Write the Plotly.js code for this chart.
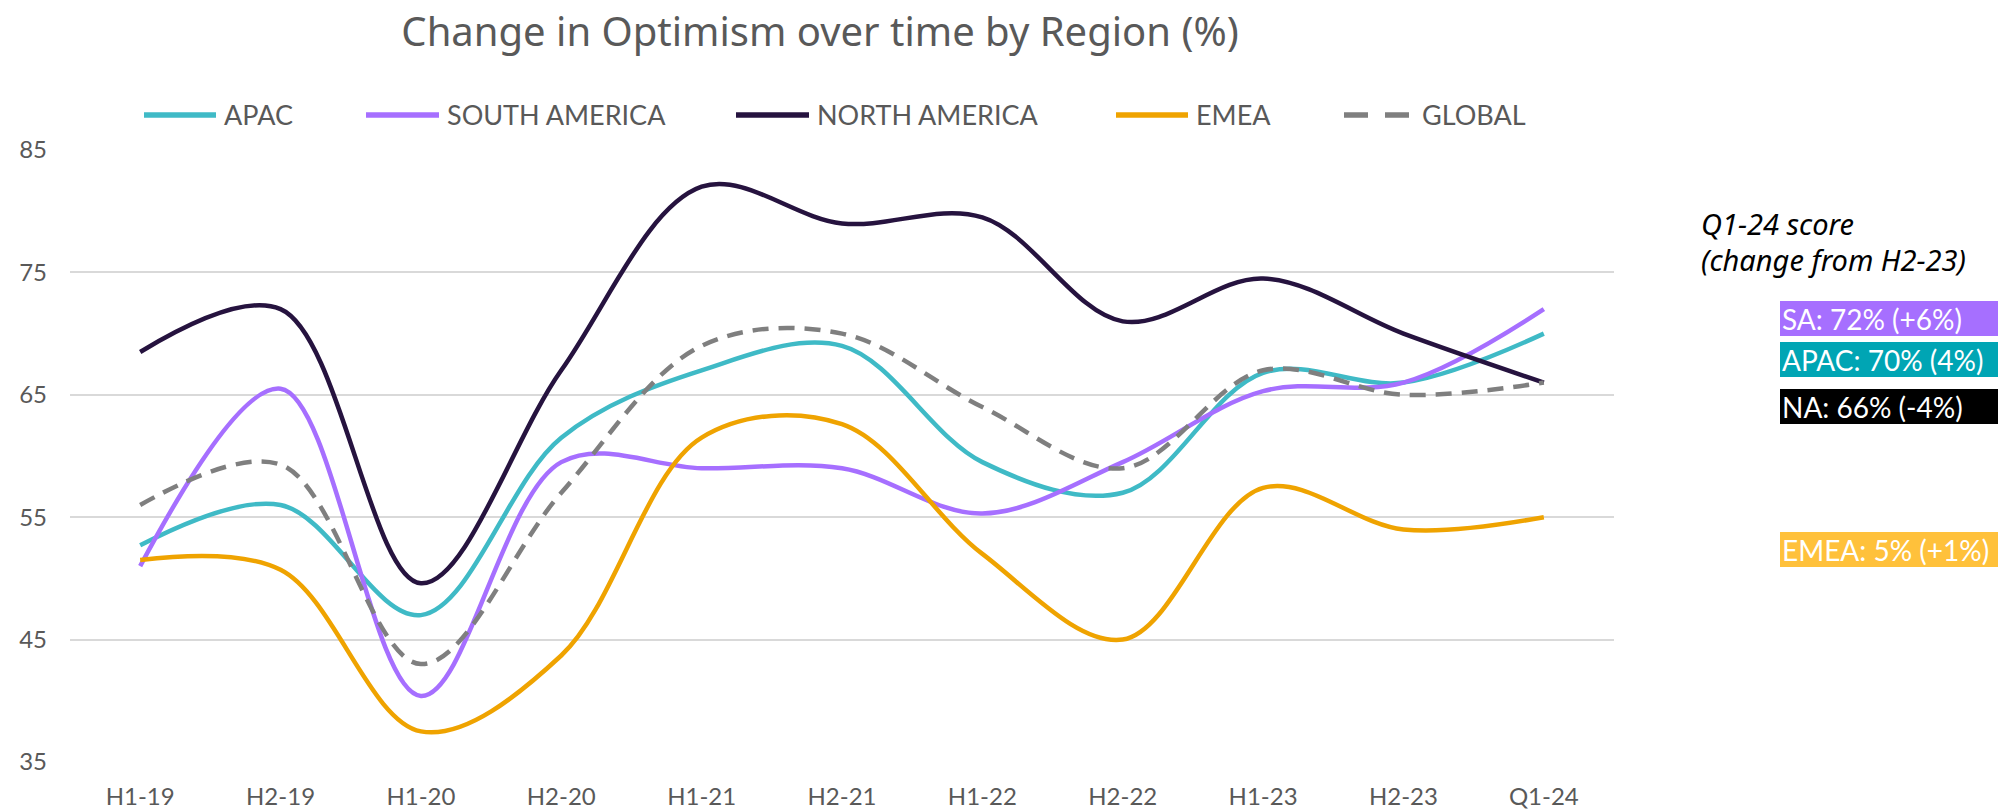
<!DOCTYPE html>
<html>
<head>
<meta charset="utf-8">
<script src="https://cdn.plot.ly/plotly-3.0.1.min.js"></script>
<style>
  html, body { margin: 0; padding: 0; background: #ffffff; }
  #chart { width: 1998px; height: 812px; }
</style>
</head>
<body>
<div id="chart"></div>
<script>
// ---- Data ----
const categories = ['H1-19','H2-19','H1-20','H2-20','H1-21','H2-21','H1-22','H2-22','H1-23','H2-23','Q1-24'];
const apac   = [52.7, 56.0, 47.0, 61.5, 67.0, 69.0, 59.5, 57.0, 66.8, 66.0, 70.0];
const southAmerica = [51.0, 65.5, 40.4, 59.5, 59.0, 59.0, 55.3, 59.5, 65.3, 66.0, 72.0];
const northAmerica = [68.5, 72.0, 49.6, 67.0, 82.0, 79.0, 79.5, 71.0, 74.5, 70.0, 66.0];
const emea   = [51.5, 50.7, 37.5, 43.7, 61.5, 62.6, 52.0, 45.0, 57.4, 54.0, 55.0];
const global = [56.0, 59.3, 43.0, 57.0, 69.0, 70.0, 64.0, 59.0, 67.0, 65.0, 66.0];

const seriesNames = ['APAC', 'SOUTH AMERICA', 'NORTH AMERICA', 'EMEA', 'GLOBAL'];
const yTicks = [35, 45, 55, 65, 75, 85];

const scoreTitle = ['Q1-24 score', '(change from H2-23)'];
const scoreLabels = ['SA: 72% (+6%)', 'APAC: 70% (4%)', 'NA: 66% (-4%)', 'EMEA: 5% (+1%)'];

// ---- Styles ----
const seriesColors = ['#3FBAC6', '#A66FFF', '#26133F', '#EFA300', '#7F7F7F'];
const seriesDash = ['solid', 'solid', 'solid', 'solid', '16px,10px'];
const boxColors = ['#A66FFF', '#00A5B4', '#000000', '#FFC13B'];
const fontMain = 'Lato, "Open Sans", sans-serif';
const fontTitle = '"Noto Sans", "Open Sans", sans-serif';
const textGrey = '#595959';

const seriesValues = [apac, southAmerica, northAmerica, emea, global];

const data = seriesValues.map((vals, i) => ({
  type: 'scatter', mode: 'lines', name: seriesNames[i], x: categories, y: vals,
  line: { color: seriesColors[i], width: 4.5, shape: 'spline', smoothing: 1, dash: seriesDash[i] },
  showlegend: false
}));

// plot area in pixels: x 70..1614, y 150..762
const L = 70, R = 1614, T = 150, B = 762;
const W = 1998, H = 812;
const px = p => (p - L) / (R - L);
const py = p => (B - p) / (B - T);

const shapes = [];
const annotations = [];

// legend (drawn manually to match the long line samples)
const legLineStart = [144, 366, 736, 1116, 1344];
const legLineEnd   = [216, 439, 809, 1188, 1409];
const legTextStart = [222, 445, 815, 1194, 1420];
const legendDash   = ['solid', 'solid', 'solid', 'solid', '24px,17px'];
const legY = 115;
seriesNames.forEach((n, i) => {
  shapes.push({
    type: 'line', xref: 'paper', yref: 'paper', layer: 'above',
    x0: px(legLineStart[i]), x1: px(legLineEnd[i]), y0: py(legY), y1: py(legY),
    line: { color: seriesColors[i], width: 5.5, dash: legendDash[i] }
  });
  annotations.push({
    xref: 'paper', yref: 'paper', x: px(legTextStart[i]), y: py(legY),
    xanchor: 'left', yanchor: 'middle', text: n, showarrow: false,
    font: { family: fontMain, size: 27, color: textGrey }
  });
});

// right-side header text
annotations.push({
  xref: 'paper', yref: 'paper', x: px(1699), y: py(223), xanchor: 'left', yanchor: 'middle',
  text: '<i>' + scoreTitle[0] + '</i>', showarrow: false,
  font: { family: fontTitle, size: 29, color: '#000000' }
});
annotations.push({
  xref: 'paper', yref: 'paper', x: px(1699), y: py(259), xanchor: 'left', yanchor: 'middle',
  text: '<i>' + scoreTitle[1] + '</i>', showarrow: false,
  font: { family: fontTitle, size: 29, color: '#000000' }
});

// score boxes
const boxTops = [301, 342, 389, 532];
const boxH = 35;
scoreLabels.forEach((t, i) => {
  shapes.push({
    type: 'rect', xref: 'paper', yref: 'paper', layer: 'above',
    x0: px(1780), x1: px(1998), y0: py(boxTops[i] + boxH), y1: py(boxTops[i]),
    fillcolor: boxColors[i], line: { width: 0 }
  });
  annotations.push({
    xref: 'paper', yref: 'paper', x: px(1780), y: py(boxTops[i] + boxH / 2),
    xanchor: 'left', yanchor: 'middle', text: t, showarrow: false,
    font: { family: fontMain, size: 28, color: '#ffffff' }
  });
});

const layout = {
  width: W, height: H,
  paper_bgcolor: '#ffffff', plot_bgcolor: '#ffffff',
  margin: { l: L, r: W - R, t: T, b: H - B, pad: 0 },
  title: {
    text: 'Change in Optimism over time by Region (%)',
    font: { family: fontTitle, size: 40, color: textGrey },
    xref: 'paper', x: px(820), xanchor: 'center',
    yref: 'container', y: 1 - 32 / H, yanchor: 'middle'
  },
  showlegend: false,
  xaxis: {
    type: 'category', range: [-0.5, 10.5], fixedrange: true,
    showgrid: false, zeroline: false, showline: false, ticks: '',
    tickfont: { family: fontMain, size: 24, color: textGrey },
    ticklabelstandoff: 18
  },
  yaxis: {
    range: [35, 85], tickvals: yTicks, ticktext: yTicks.map(String), fixedrange: true,
    showgrid: true, gridcolor: '#D9D9D9', gridwidth: 2,
    zeroline: false, showline: false, ticks: '',
    tickfont: { family: fontMain, size: 24, color: textGrey },
    ticklabelstandoff: 22
  },
  shapes: shapes,
  annotations: annotations
};

Plotly.newPlot('chart', data, layout, { displayModeBar: false, staticPlot: true });
</script>
</body>
</html>
